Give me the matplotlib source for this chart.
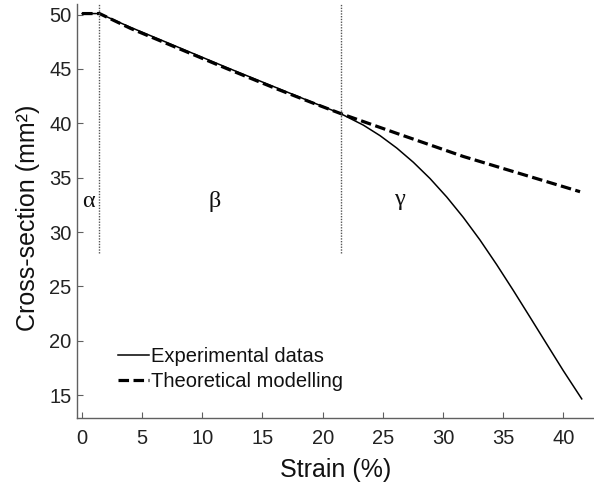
import matplotlib
matplotlib.use("Agg")
import matplotlib.pyplot as plt

# ---- data ----
strain_exp = [0, 1.45, 4, 8, 12, 16, 19, 21.45, 23.38, 24.77, 26.16, 27.54, 28.93,
              30.32, 31.70, 33.08, 34.47, 35.85, 37.24, 38.62, 40.01, 41.54]
area_exp = [50.1, 50.1, 48.85, 47.0, 45.15, 43.35, 42.0, 40.92, 39.84, 38.87, 37.73, 36.42, 34.92,
            33.22, 31.34, 29.27, 27.0, 24.63, 22.17, 19.71, 17.24, 14.65]

strain_theo = [0, 1.45, 4, 8, 12, 16, 19, 21.45, 26.16, 31.70, 37.24, 41.4]
area_theo = [50.1, 50.1, 48.75, 46.9, 45.05, 43.25, 41.95, 40.92, 39.08, 36.95, 35.1, 33.71]

boundaries = [1.45, 21.5]
boundary_ymin = 28.1
region_labels = ["α", "β", "γ"]
region_x = [0.5, 11.05, 26.4]
region_y = [32.8, 32.8, 33.0]

xticks = [0, 5, 10, 15, 20, 25, 30, 35, 40]
yticks = [15, 20, 25, 30, 35, 40, 45, 50]

plt.rcParams['font.family'] = ['Liberation Sans', 'DejaVu Sans']

W, H = 594, 484
fig = plt.figure(figsize=(W / 100, H / 100), dpi=100)
ax = fig.add_axes([77 / W, 1 - 418 / H, (594 - 77) / W, (418 - 4) / H])

ax.plot(strain_exp, area_exp, color='black', lw=1.1, label='Experimental datas')
ax.plot(strain_theo, area_theo, color='black', lw=2.3, linestyle=(0, (3.3, 1.4)),
        label='Theoretical modelling')

for b in boundaries:
    ax.plot([b, b], [boundary_ymin, 50.95], color='#555555', lw=1.0,
            linestyle=(0, (1, 1)))

for lab, x, y in zip(region_labels, region_x, region_y):
    ax.text(x, y, lab, fontsize=17.5, family=['Liberation Serif', 'DejaVu Serif'],
            ha='center', va='center', color='#111111')

ax.set_xlim(-0.42, 42.56)
ax.set_ylim(12.89, 50.98)
ax.set_xticks(xticks)
ax.set_yticks(yticks)

for s in ['top', 'right']:
    ax.spines[s].set_visible(False)
for s in ['left', 'bottom']:
    ax.spines[s].set_color('#606060')
    ax.spines[s].set_linewidth(1.0)

ax.tick_params(axis='both', direction='in', length=4, width=0.8, color='#606060',
               labelsize=14.5, labelcolor='#222222')
ax.tick_params(axis='x', pad=8)
ax.tick_params(axis='y', pad=4)

ax.set_xlabel('Strain (%)', fontsize=18, color='#111111', labelpad=7)
ax.set_ylabel('Cross-section (mm²)', fontsize=18, color='#111111')
ax.yaxis.set_label_coords(-0.072, 0.483)

leg = ax.legend(loc='upper left', bbox_to_anchor=(0.079, 0.172), frameon=False,
                fontsize=14.5, handlelength=1.55, handletextpad=0.1,
                labelspacing=0.3, borderpad=0, borderaxespad=0)
for t in leg.get_texts():
    t.set_color('#111111')

fig.savefig('out.png', dpi=100)
